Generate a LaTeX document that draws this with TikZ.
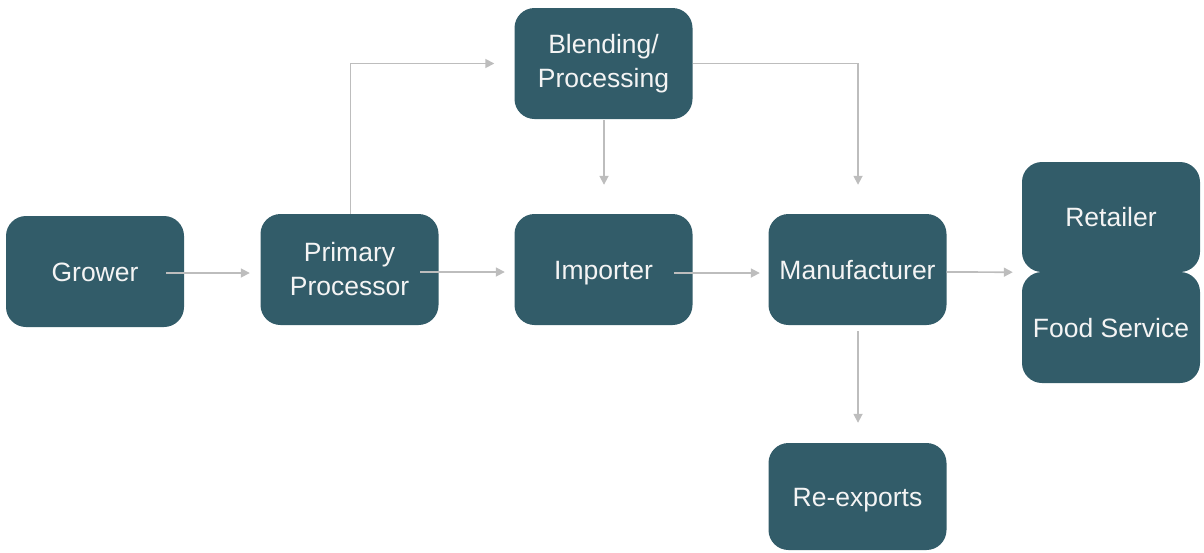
\documentclass[tikz,border=0pt]{standalone}
\usepackage{fontspec}
\setmainfont{Liberation Sans}
\usetikzlibrary{arrows.meta,calc}
\definecolor{boxteal}{HTML}{325C69}
\definecolor{linegray}{HTML}{BDBDBD}
\definecolor{textwhite}{HTML}{F4F4F4}
\begin{document}
\begin{tikzpicture}[x=1pt,y=-1pt,
  stagebox/.style={rectangle, rounded corners=20pt, fill=boxteal, text=textwhite,
    minimum width=178pt, minimum height=111pt, align=center, inner sep=0pt,
    text height=19pt, text depth=0pt,
    font=\fontsize{26.5}{34}\selectfont},
  twoline/.style={text height={}, text depth={}},
  flow/.style={draw=linegray, line width=1.7pt, -{Triangle[width=9pt,length=9pt]}}]
\useasboundingbox (0,0) rectangle (1204,552);
\node[stagebox] (grower) at (95,271.5) {Grower};
\node[stagebox, twoline] (pp) at (349.5,269.5) {Primary\\Processor};
\node[stagebox] (imp) at (603.5,269.5) {Importer};
\node[stagebox] (man) at (857.5,269.5) {Manufacturer};
\node[stagebox, twoline] (blend) at (603.5,63.5) {Blending/\\Processing};
\node[stagebox, minimum height=107pt] (reex) at (857.5,496.5) {Re-exports};
\node[stagebox, minimum height=110pt] (ret) at (1111,217) {Retailer};
\node[stagebox] (food) at (1111,327.5) {Food Service};
\coordinate (join) at (ret.south west);
% connectors
\draw[flow] ($(grower.east)+(-18,1.5)$) -- ($(pp.west)+(-10.5,3.5)$);
\draw[flow] ($(pp.east)+(-18.5,2.5)$) -- ($(imp.west)+(-9.5,2.5)$);
\draw[flow] ($(imp.east)+(-18.5,3.5)$) -- ($(man.west)+(-8.5,3.5)$);
\draw[flow] ($(man.east)+(0,2.5)$) -- ($(join)+(-9,0)$);
\draw[flow] ($(man.south)+(0.5,6)$) -- ($(reex.north)+(0.5,-20)$);
\draw[flow] ($(blend.south)+(0.5,1)$) -- ($(imp.north)+(0.5,-29)$);
\draw[flow] (blend.east) -| ($(man.north)+(0.5,-29)$);
\draw[flow] ($(pp.north)+(1,0)$) |- ($(blend.west)+(-20,0)$);
\end{tikzpicture}
\end{document}
